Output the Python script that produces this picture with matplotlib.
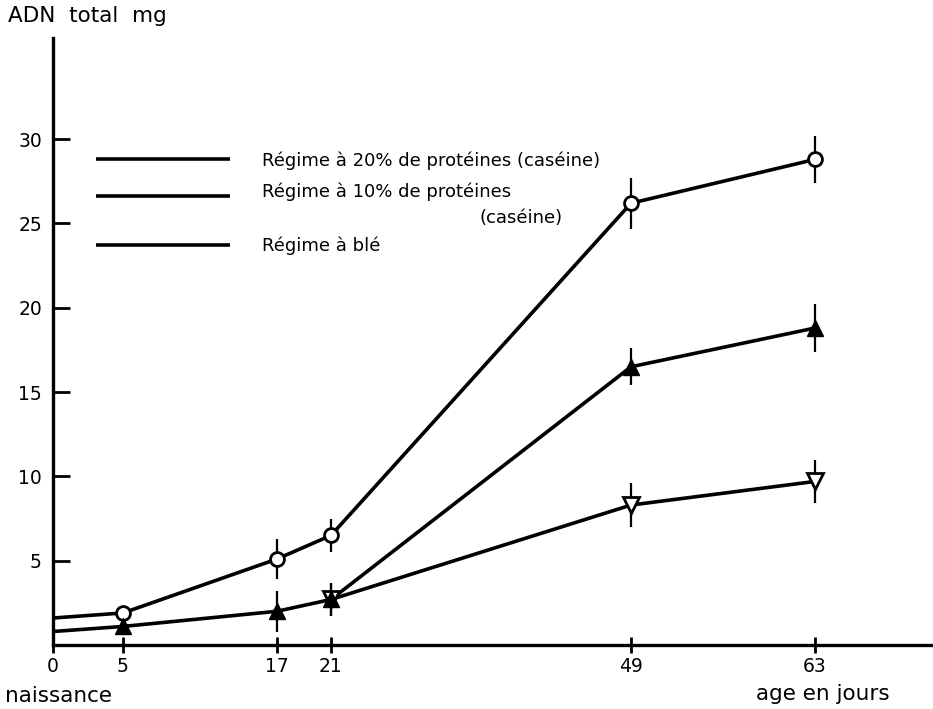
import numpy as np
import matplotlib
matplotlib.use("Agg")
import matplotlib.pyplot as plt

plt.rcParams['font.family'] = ['DejaVu Sans']

# data
age = [0, 5, 17, 21, 49, 63]
adn_20 = [1.6, 1.9, 5.1, 6.5, 26.2, 28.8]
err_20 = [0, 0, 1.2, 1.0, 1.5, 1.4]
adn_10 = [0.8, 1.1, 2.0, 2.7, 16.5, 18.8]
err_10 = [0, 0, 1.2, 1.0, 1.1, 1.4]
age_ble = [21, 49, 63]
adn_ble = [2.7, 8.3, 9.7]
err_ble = [1.0, 1.3, 1.3]

xticks = [0, 5, 17, 21, 49, 63]
yticks = [5, 10, 15, 20, 25, 30]

# the original time axis is not evenly spaced: piecewise scale
scale_days = [0, 5, 17, 21, 49, 63, 72]
scale_pos = [53, 123, 277, 331, 631, 815, 933]

def fwd(x):
    return np.interp(x, scale_days, scale_pos)

def inv(p):
    return np.interp(p, scale_pos, scale_days)

fig = plt.figure(figsize=(9.33, 7.09), dpi=100)
ax = fig.add_axes([53 / 933, 64 / 709, 1 - 53 / 933, (645 - 38) / 709])
ax.set_xscale('function', functions=(fwd, inv))
ax.set_xlim(0, 72)
ax.set_ylim(0, 36)

lw = 2.6
# lines (start at birth, no marker there)
ax.plot(age, adn_20, color='black', lw=lw, zorder=2)
ax.plot(age, adn_10, color='black', lw=lw, zorder=2)
ax.plot(age_ble, adn_ble, color='black', lw=lw, zorder=2)

ax.errorbar(age[1:], adn_20[1:], yerr=err_20[1:], fmt='o', color='black', elinewidth=1.6,
            capsize=0, ms=10, mfc='white', mec='black', mew=2, zorder=3)
ax.errorbar(age_ble, adn_ble, yerr=err_ble, fmt='v', color='black', elinewidth=1.6,
            capsize=0, ms=12, mfc='white', mec='black', mew=2, zorder=3)
ax.errorbar(age[1:], adn_10[1:], yerr=err_10[1:], fmt='^', color='black', elinewidth=1.6,
            capsize=0, ms=12, mfc='black', mec='black', mew=1, zorder=4)

for s in ['top', 'right']:
    ax.spines[s].set_visible(False)
for s in ['left', 'bottom']:
    ax.spines[s].set_linewidth(2.4)

ax.set_xticks(xticks)
ax.set_yticks(yticks)
ax.tick_params(axis='y', direction='in', length=12, width=2, labelsize=13.5, pad=8)
ax.tick_params(axis='x', direction='inout', length=12, width=2, labelsize=13.5, pad=3)

# hand-drawn legend
leg_line_y = [28.8, 26.6, 23.7]
for yv in leg_line_y:
    ax.plot([3.1, 13.3], [yv, yv], color='black', lw=2.6, solid_capstyle='butt')
ax.text(15.8, 28.7, "Régime à 20% de protéines (caséine)", fontsize=13, va='center')
ax.text(15.8, 26.9, "Régime à 10% de protéines", fontsize=13, va='center')
ax.text(42.6, 25.3, "(caséine)", fontsize=13, va='center', ha='right')
ax.text(15.8, 23.7, "Régime à blé", fontsize=13, va='center')

fig.text(8 / 933, 1 - 16 / 709, "ADN  total  mg", fontsize=15.5, va='center')
fig.text(5 / 933, 1 - 696 / 709, "naissance", fontsize=15.5, va='center')
fig.text(890 / 933, 1 - 694 / 709, "age en jours", fontsize=15.5, va='center', ha='right')

fig.savefig("out.png", dpi=100)
